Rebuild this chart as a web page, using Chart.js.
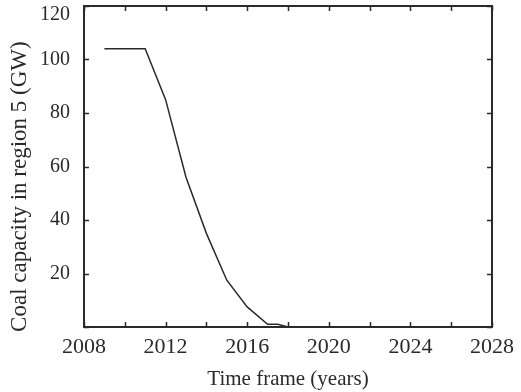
<!DOCTYPE html>
<html>
<head>
<meta charset="utf-8">
<script src="https://cdn.jsdelivr.net/npm/chart.js@4/dist/chart.umd.min.js"></script>
<style>
  html, body { margin: 0; padding: 0; background: #fff; }
  #wrap { width: 521px; height: 392px; }
</style>
</head>
<body>
<div id="wrap"><canvas id="coalChart" width="521" height="392"></canvas></div>
<script>
// coal capacity, region 5
const years = [2009, 2010, 2011, 2012, 2013, 2014, 2015, 2016, 2017, 2017.5, 2018, 2020, 2024, 2028]
const capacity = [104, 104, 104, 85, 56, 35, 17.5, 7.5, 1, 1, 0, 0, 0, 0]
const xTickLabels = [2008, 2012, 2016, 2020, 2024, 2028]
const yTickLabels = [20, 40, 60, 80, 100, 120]

const ink = '#2a2a2a'
const serif = "'Liberation Serif', 'Times New Roman', serif"

// box around the plot with inward tick marks on all four sides
const frameTicks = {
  id: 'frameTicks',
  afterDraw(chart) {
    const { ctx, chartArea: a, scales } = chart
    ctx.save()
    ctx.strokeStyle = ink
    ctx.lineWidth = 2
    ctx.strokeRect(a.left, a.top, a.right - a.left, a.bottom - a.top)
    ctx.lineWidth = 1.5
    const len = 5
    scales.x.ticks.forEach(t => {
      const px = Math.round(scales.x.getPixelForValue(t.value)) + 0.5
      ctx.beginPath()
      ctx.moveTo(px, a.bottom); ctx.lineTo(px, a.bottom - len)
      ctx.moveTo(px, a.top); ctx.lineTo(px, a.top + len)
      ctx.stroke()
    })
    scales.y.ticks.forEach(t => {
      const py = Math.round(scales.y.getPixelForValue(t.value)) + 0.5
      ctx.beginPath()
      ctx.moveTo(a.left, py); ctx.lineTo(a.left + len, py)
      ctx.moveTo(a.right, py); ctx.lineTo(a.right - len, py)
      ctx.stroke()
    })
    ctx.restore()
  }
}

new Chart(document.getElementById('coalChart'), {
  type: 'line',
  data: {
    datasets: [{
      data: years.map((y, i) => ({ x: y, y: capacity[i] })),
      borderColor: ink,
      borderWidth: 1.5,
      pointRadius: 0,
      tension: 0,
      fill: false
    }]
  },
  options: {
    responsive: false,
    animation: false,
    layout: { padding: { top: 6, right: 29, left: 0, bottom: 0 } },
    plugins: { legend: { display: false }, tooltip: { enabled: false } },
    scales: {
      x: {
        type: 'linear',
        min: 2008,
        max: 2028,
        grid: { display: false },
        border: { display: false },
        ticks: {
          stepSize: 2,
          maxRotation: 0,
          autoSkip: false,
          padding: -1,
          color: ink,
          font: { family: serif, size: 22 },
          callback: v => xTickLabels.includes(v) ? String(v) : ''
        },
        title: {
          display: true,
          text: 'Time frame (years)',
          color: ink,
          font: { family: serif, size: 21 },
          padding: { top: 1, bottom: 0 }
        },
        afterFit(s) { s.height = 65; s.paddingLeft = 0; s.paddingRight = 0 }
      },
      y: {
        min: 0,
        max: 120,
        grid: { display: false },
        border: { display: false },
        ticks: {
          stepSize: 20,
          padding: 6,
          color: ink,
          // the top label sits a little below its tick, clear of the frame
          font: ctx => ({ family: serif, size: 20, lineHeight: ctx.tick && ctx.tick.value === 120 ? 0.85 : 1.2 }),
          callback: v => v === 120 ? ['', '120'] : (yTickLabels.includes(v) ? String(v) : '')
        },
        title: {
          display: true,
          text: 'Coal capacity in region 5 (GW)\u00a0\u00a0\u00a0\u00a0\u00a0\u00a0\u00a0',
          color: ink,
          font: { family: serif, size: 23 },
          padding: { top: 6, bottom: 0 }
        },
        afterFit(s) { s.width = 84; s.paddingTop = 0; s.paddingBottom = 0 }
      }
    }
  },
  plugins: [frameTicks]
})
</script>
</body>
</html>
